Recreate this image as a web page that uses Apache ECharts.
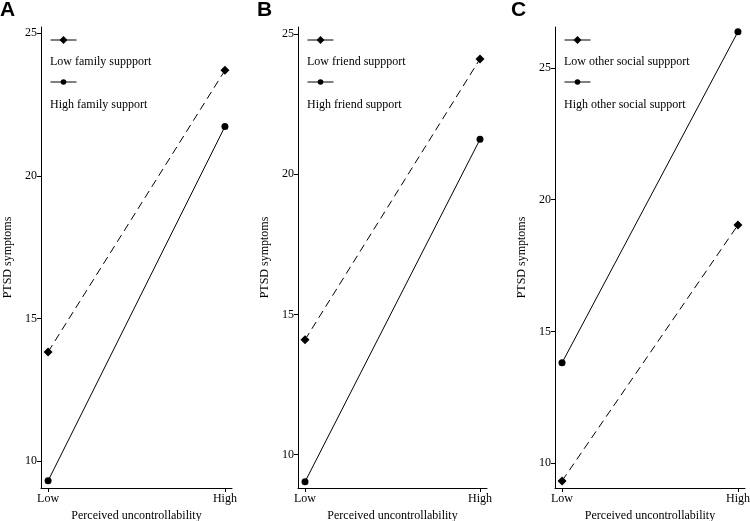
<!DOCTYPE html>
<html>
<head>
<meta charset="utf-8">
<script src="https://cdn.jsdelivr.net/npm/echarts@6/dist/echarts.min.js"></script>
<style>html,body{margin:0;padding:0;background:#fff}#c{width:750px;height:521px}</style>
</head>
<body>
<div id="c"></div>
<script>
const categories = ['Low', 'High'];
const yTicks = [10, 15, 20, 25];
const panelLetters = ['A', 'B', 'C'];
const lowNames = ['Low family suppport', 'Low friend suppport', 'Low other social suppport'];
const highNames = ['High family support', 'High friend support', 'High other social support'];
const lowFamily = [13.83, 23.70];
const highFamily = [9.31, 21.73];
const lowFriend = [14.09, 24.12];
const highFriend = [9.02, 21.25];
const lowOther = [9.33, 19.04];
const highOther = [13.81, 26.37];
const yTitle = 'PTSD symptoms';
const xTitle = 'Perceived uncontrollability';

const lowSets = [lowFamily, lowFriend, lowOther];
const highSets = [highFamily, highFriend, highOther];

const layout = [
  {left: 41, width: 191, ymin: 9.06, ymax: 25.22, letterX: 0, legX: 50},
  {left: 298, width: 189, ymin: 8.80, ymax: 25.26, letterX: 257, legX: 307},
  {left: 555, width: 190, ymin: 9.06, ymax: 26.55, letterX: 511, legX: 564}
];
const font = 'Liberation Serif';
const toPts = arr => categories.map((c, i) => [i, arr[i]]);

const grid = [], xAxis = [], yAxis = [], series = [], legend = [], graphic = [];
layout.forEach((L, p) => {
  grid.push({left: L.left, width: L.width, top: 27, height: 461, outerBoundsMode: 'none', containLabel: false});
  xAxis.push({
    type: 'value', gridIndex: p, min: -0.04, max: 1.04,
    name: xTitle, nameLocation: 'middle', nameGap: 22,
    nameTextStyle: {fontFamily: font, fontSize: 12, color: '#000'},
    axisLine: {onZero: false, lineStyle: {color: '#000', width: 1}},
    axisTick: {show: true, length: 4, customValues: [0, 1], lineStyle: {color: '#000'}},
    axisLabel: {customValues: [0, 1], formatter: v => categories[v], fontFamily: font, fontSize: 12, color: '#000', margin: 5},
    splitLine: {show: false}
  });
  yAxis.push({
    type: 'value', gridIndex: p, min: L.ymin, max: L.ymax,
    name: yTitle, nameLocation: 'middle', nameGap: 27,
    nameTextStyle: {fontFamily: font, fontSize: 12, color: '#000'},
    axisLine: {show: true, onZero: false, lineStyle: {color: '#000', width: 1}},
    axisTick: {show: true, length: 4, customValues: yTicks, lineStyle: {color: '#000'}},
    axisLabel: {customValues: yTicks, fontFamily: font, fontSize: 12, color: '#000', margin: 4},
    splitLine: {show: false}
  });
  series.push({
    name: lowNames[p], type: 'line', xAxisIndex: p, yAxisIndex: p,
    data: toPts(lowSets[p]), symbol: 'diamond', symbolSize: 9,
    lineStyle: {color: '#000', width: 1, type: [8, 5]}, itemStyle: {color: '#000'},
    silent: true, animation: false
  });
  series.push({
    name: highNames[p], type: 'line', xAxisIndex: p, yAxisIndex: p,
    data: toPts(highSets[p]), symbol: 'circle', symbolSize: 7,
    lineStyle: {color: '#000', width: 1, type: 'solid'}, itemStyle: {color: '#000'},
    silent: true, animation: false
  });
  legend.push({
    data: [lowNames[p]], left: L.legX, top: 35, padding: 0,
    itemWidth: 26, itemHeight: 10, formatter: () => '',
    lineStyle: {type: 'solid', width: 1, color: '#000'}, itemStyle: {color: '#000'},
    selectedMode: false
  });
  legend.push({
    data: [highNames[p]], left: L.legX, top: 78.5, padding: 0,
    itemWidth: 26, itemHeight: 7, formatter: () => '',
    lineStyle: {type: 'solid', width: 1, color: '#000'}, itemStyle: {color: '#000'},
    selectedMode: false
  });
  graphic.push({type: 'text', left: L.legX, top: 56, style: {text: lowNames[p], font: '12px "Liberation Serif"', fill: '#000'}});
  graphic.push({type: 'text', left: L.legX, top: 99, style: {text: highNames[p], font: '12px "Liberation Serif"', fill: '#000'}});
  graphic.push({type: 'text', left: L.letterX, top: 0, style: {text: panelLetters[p], font: 'bold 21px "Liberation Sans"', fill: '#000'}});
});

const chart = echarts.init(document.getElementById('c'), null, {renderer: 'canvas'});
chart.setOption({backgroundColor: '#fff', animation: false, grid, xAxis, yAxis, series, legend, graphic});
</script>
</body>
</html>
